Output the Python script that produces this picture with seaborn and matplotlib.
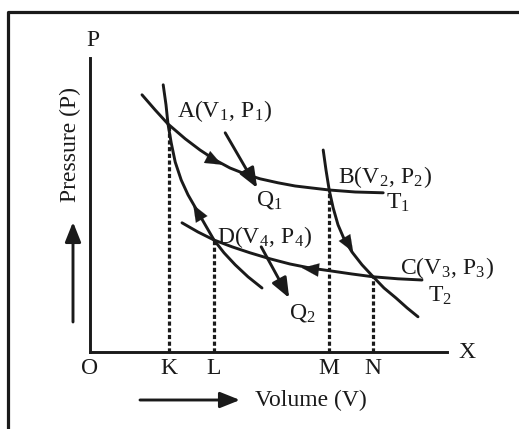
import seaborn as sns
import matplotlib.pyplot as plt
from matplotlib.lines import Line2D

# state points of the cycle (volume, pressure), arbitrary units
point_names = ['A', 'B', 'C', 'D']
point_v = [1.97, 5.98, 7.08, 3.10]
point_p = [5.70, 4.05, 1.88, 2.80]
foot_names = ['K', 'M', 'N', 'L']

# isotherm T1 (through A and B)
t1_v = [1.30, 1.63, 1.95, 2.38, 2.75, 3.13, 3.50, 3.88, 4.25, 4.70, 5.13, 5.55, 5.98, 6.63, 7.33]
t1_p = [6.43, 6.05, 5.70, 5.33, 5.05, 4.80, 4.60, 4.45, 4.33, 4.23, 4.15, 4.10, 4.05, 4.00, 3.98]

# adiabat through A and D
ad_v = [1.83, 1.90, 1.95, 2.03, 2.13, 2.28, 2.45, 2.68, 2.88, 3.10, 3.35, 3.63, 3.95, 4.30]
ad_p = [6.68, 6.18, 5.70, 5.23, 4.75, 4.30, 3.93, 3.53, 3.18, 2.80, 2.48, 2.18, 1.88, 1.60]

# adiabat through B and C
bc_v = [5.83, 5.90, 5.98, 6.08, 6.20, 6.35, 6.55, 6.80, 7.08, 7.35, 7.65, 7.93, 8.20]
bc_p = [5.05, 4.55, 4.05, 3.60, 3.18, 2.83, 2.50, 2.18, 1.88, 1.60, 1.35, 1.10, 0.88]

# isotherm T2 (through D and C)
t2_v = [2.30, 2.70, 3.10, 3.55, 4.00, 4.50, 5.00, 5.50, 6.00, 6.55, 7.08, 7.70, 8.30]
t2_p = [3.23, 3.00, 2.80, 2.63, 2.48, 2.33, 2.20, 2.10, 2.03, 1.95, 1.88, 1.83, 1.80]

# direction arrows on the cycle: (tail, tip)
flow_tail = [(2.88, 4.90), (2.83, 3.25), (6.25, 3.05), (5.88, 2.03)]
flow_tip = [(3.30, 4.68), (2.58, 3.68), (6.58, 2.50), (5.30, 2.10)]

# heat arrows
heat_names = ['Q$_\\mathregular{1}$', 'Q$_\\mathregular{2}$']
heat_tail = [(3.38, 5.48), (4.28, 2.63)]
heat_tip = [(4.18, 4.10), (4.98, 1.35)]

W, H = 519, 429
sns.set_theme(style='white')
plt.rcParams['font.family'] = ['Liberation Serif', 'DejaVu Serif']
plt.rcParams['mathtext.fontset'] = 'stix'

fig = plt.figure(figsize=(W / 100, H / 100), dpi=100)
ax = fig.add_axes([90 / W, 77 / H, 357 / W, 294 / H])
ax.set_xlim(0, 8.925)
ax.set_ylim(0, 7.35)

ink = '#1a1a1a'
fs = 17
head = '-|>,head_length=1.0,head_width=0.4'
for xs, ys in [(t1_v, t1_p), (ad_v, ad_p), (bc_v, bc_p), (t2_v, t2_p)]:
    sns.lineplot(x=xs, y=ys, sort=False, estimator=None, color=ink, lw=2.1, ax=ax)

ax.vlines(point_v, 0, point_p, colors=ink, lw=2.3, linestyles=(0, (1.3, 0.8)))

for tail, tip in zip(flow_tail, flow_tip):
    ax.annotate('', xy=tip, xytext=tail,
                arrowprops=dict(arrowstyle=head, color=ink, lw=0.1,
                                shrinkA=0, shrinkB=0))
for tail, tip in zip(heat_tail, heat_tip):
    ax.annotate('', xy=tip, xytext=tail,
                arrowprops=dict(arrowstyle=head, color=ink, lw=2.1,
                                shrinkA=0, shrinkB=0))

subs = ['1', '2', '3', '4']
offsets = [(6, 9), (6, 9), (19, 6), (2, 2)]
for name, v, p, s, off in zip(point_names, point_v, point_p, subs, offsets):
    label = f'{name}(V$_\\mathregular{{{s}}}$, P$_\\mathregular{{{s}}}$)'
    ax.annotate(label, xy=(v, p), xytext=off, textcoords='offset points',
                ha='left', va='center', fontsize=fs, color=ink)

ax.annotate('T$_\\mathregular{1}$', xy=(t1_v[-1], t1_p[-1]), xytext=(2, -7),
            textcoords='offset points', ha='left', va='center', fontsize=fs, color=ink)
ax.annotate('T$_\\mathregular{2}$', xy=(bc_v[-1], bc_p[-1]), xytext=(7, 15),
            textcoords='offset points', ha='left', va='center', fontsize=fs, color=ink)
for name, tip, off in zip(heat_names, heat_tip, [(-1, -9), (0, -11)]):
    ax.annotate(name, xy=tip, xytext=off, textcoords='offset points',
                ha='left', va='center', fontsize=fs, color=ink)

sns.despine(ax=ax)
for side in ['left', 'bottom']:
    ax.spines[side].set_linewidth(2.1)
    ax.spines[side].set_color(ink)
ax.set_xticks([0] + point_v)
ax.set_xticklabels(['O'] + foot_names, fontsize=fs, color=ink)
ax.set_yticks([])
ax.tick_params(axis='x', length=0, pad=4)
ax.grid(False)
ax.set_facecolor('none')

ax.annotate('P', xy=(0, 1), xycoords='axes fraction', xytext=(2, 5),
            textcoords='offset points', ha='center', va='bottom', fontsize=fs, color=ink)
ax.annotate('X', xy=(1, 0), xycoords='axes fraction', xytext=(8, 0),
            textcoords='offset points', ha='left', va='center', fontsize=fs, color=ink)

fig.text(70 / W, 1 - 145 / H, 'Pressure (P)', rotation=90, ha='center', va='center',
         fontsize=fs, color=ink)
fig.text(311 / W, 29 / H, 'Volume (V)', ha='center', va='center', fontsize=fs, color=ink)
ax.annotate('', xy=(73, 207), xytext=(73, 107), xycoords='figure pixels',
            arrowprops=dict(arrowstyle=head, color=ink, lw=2.1, shrinkA=0, shrinkB=0))
ax.annotate('', xy=(240, 29), xytext=(140, 29), xycoords='figure pixels',
            arrowprops=dict(arrowstyle=head, color=ink, lw=2.1, shrinkA=0, shrinkB=0))

fig.add_artist(Line2D([8 / W, 8 / W, 1], [0, 1 - 12 / H, 1 - 12 / H],
                      transform=fig.transFigure, lw=2.3, color=ink))

fig.savefig('out.png', dpi=100)
